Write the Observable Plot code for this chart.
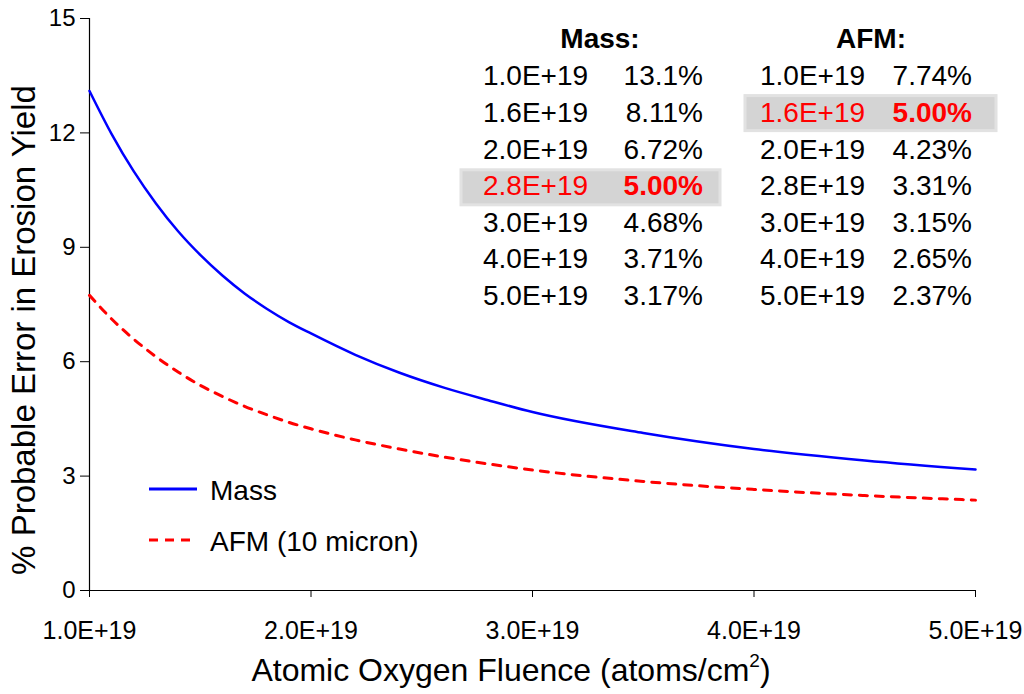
<!DOCTYPE html>
<html>
<head>
<meta charset="utf-8">
<script src="https://cdn.jsdelivr.net/npm/d3@7"></script>
<script src="https://cdn.jsdelivr.net/npm/@observablehq/plot@0.6"></script>
<style>
  html, body { margin: 0; padding: 0; background: #fff; }
  #wrap { position: relative; width: 1024px; height: 694px; }
  #wrap svg { position: absolute; left: 0; top: 0; }
</style>
</head>
<body>
<div id="wrap"></div>
<script>
// ---- data (fluence in units of 1E+19 atoms/cm^2, error in %) ----
const fluence   = [1.0, 1.1, 1.2, 1.3, 1.4, 1.5, 1.6, 1.7, 1.8, 1.9, 2.0, 2.2, 2.4, 2.6, 2.8, 3.0, 3.5, 4.0, 4.5, 5.0];
const massError = [13.1, 11.97, 10.99, 10.15, 9.42, 8.80, 8.26, 7.79, 7.39, 7.04, 6.74, 6.18, 5.71, 5.32, 4.99, 4.68, 4.13, 3.71, 3.41, 3.17];
const afmError  = [7.74, 7.12, 6.59, 6.13, 5.73, 5.38, 5.09, 4.83, 4.61, 4.41, 4.24, 3.95, 3.71, 3.50, 3.32, 3.16, 2.86, 2.65, 2.49, 2.37];

const xTicks = [1e19, 2e19, 3e19, 4e19, 5e19];
const yTicks = [0, 3, 6, 9, 12, 15];

const tableFluence = ["1.0E+19", "1.6E+19", "2.0E+19", "2.8E+19", "3.0E+19", "4.0E+19", "5.0E+19"];
const massTable    = ["13.1%", "8.11%", "6.72%", "5.00%", "4.68%", "3.71%", "3.17%"];
const afmTable     = ["7.74%", "5.00%", "4.23%", "3.31%", "3.15%", "2.65%", "2.37%"];
const massHighlight = 3;
const afmHighlight = 1;

const seriesNames = ["Mass", "AFM (10 micron)"];

const massData = fluence.map((f, i) => ({f: f * 1e19, v: massError[i]}));
const afmData  = fluence.map((f, i) => ({f: f * 1e19, v: afmError[i]}));

const FONT = "'Liberation Sans', Arial, Helvetica, sans-serif";
const fmt = d => (d / 1e19).toFixed(1) + "E+19";

const chart = Plot.plot({
  width: 1024,
  height: 694,
  marginLeft: 89,
  marginRight: 49,
  marginTop: 18,
  marginBottom: 104,
  style: {fontFamily: FONT, fontSize: "24px", color: "#000", background: "#fff"},
  x: {domain: [1e19, 5e19], label: null},
  y: {domain: [0, 15], label: null},
  marks: [
    Plot.axisX({ticks: xTicks, tickFormat: fmt, tickSize: 7, tickPadding: 24, label: null, stroke: "#000", fontSize: 25}),
    Plot.axisY({ticks: yTicks, tickSize: 9, tickPadding: 5, label: null, stroke: "#000", fontSize: 24}),
    Plot.ruleY([0], {stroke: "#000", strokeWidth: 1.2}),
    Plot.ruleX([1e19], {stroke: "#000", strokeWidth: 1.2}),
    Plot.line(afmData, {x: "f", y: "v", stroke: "#ff0000", strokeWidth: 3, strokeDasharray: "8,8", curve: "monotone-x"}),
    Plot.line(massData, {x: "f", y: "v", stroke: "#0000ff", strokeWidth: 2.5, curve: "monotone-x"})
  ]
});

const wrap = document.getElementById("wrap");
wrap.appendChild(chart);

// ---- overlay: titles, legend, table ----
const ov = d3.select(wrap).append("svg")
  .attr("width", 1024).attr("height", 694)
  .style("font-family", FONT)
  .style("pointer-events", "none");

// Axis titles
const xt = ov.append("text").attr("x", 511).attr("y", 681)
  .attr("text-anchor", "middle").attr("font-size", 32).attr("fill", "#000")
  .text("Atomic Oxygen Fluence (atoms/cm");
xt.append("tspan").attr("font-size", 19).attr("dy", -14).text("2");
xt.append("tspan").attr("font-size", 32).attr("dy", 14).text(")");

ov.append("text")
  .attr("transform", "translate(35,330) rotate(-90)")
  .attr("text-anchor", "middle").attr("font-size", 33).attr("fill", "#000")
  .text("% Probable Error in Erosion Yield");

// Legend
const legendY = [489, 540];
ov.append("line").attr("x1", 149).attr("x2", 197).attr("y1", legendY[0]).attr("y2", legendY[0])
  .attr("stroke", "#0000ff").attr("stroke-width", 3);
ov.append("line").attr("x1", 149).attr("x2", 191).attr("y1", legendY[1]).attr("y2", legendY[1])
  .attr("stroke", "#ff0000").attr("stroke-width", 3).attr("stroke-dasharray", "9,7");
seriesNames.forEach((n, i) => {
  ov.append("text").attr("x", 210).attr("y", legendY[i] + 4)
    .attr("dominant-baseline", "middle").attr("font-size", 28).attr("fill", "#000").text(n);
});

// Table
const rowY = i => 77 + i * 36.6;
ov.append("rect").attr("x", 461).attr("y", rowY(massHighlight) - 17).attr("width", 259).attr("height", 35)
  .attr("fill", "#d4d4d4").attr("stroke", "#e2e2e2").attr("stroke-width", 3);
ov.append("rect").attr("x", 745).attr("y", rowY(afmHighlight) - 18).attr("width", 251).attr("height", 35)
  .attr("fill", "#d4d4d4").attr("stroke", "#e2e2e2").attr("stroke-width", 3);

ov.append("text").attr("x", 600).attr("y", 41).attr("text-anchor", "middle")
  .attr("dominant-baseline", "middle").attr("font-size", 28).attr("font-weight", "bold").text("Mass:");
ov.append("text").attr("x", 871).attr("y", 41).attr("text-anchor", "middle")
  .attr("dominant-baseline", "middle").attr("font-size", 28).attr("font-weight", "bold").text("AFM:");

tableFluence.forEach((f, i) => {
  const y = rowY(i) + 1;
  const mh = i === massHighlight, ah = i === afmHighlight;
  ov.append("text").attr("x", 483).attr("y", y).attr("dominant-baseline", "middle")
    .attr("font-size", 28).attr("fill", mh ? "#ff0000" : "#000").text(f);
  ov.append("text").attr("x", 703).attr("y", y).attr("text-anchor", "end").attr("dominant-baseline", "middle")
    .attr("font-size", 28).attr("font-weight", mh ? "bold" : "normal")
    .attr("fill", mh ? "#ff0000" : "#000").text(massTable[i]);
  ov.append("text").attr("x", 760).attr("y", y).attr("dominant-baseline", "middle")
    .attr("font-size", 28).attr("fill", ah ? "#ff0000" : "#000").text(f);
  ov.append("text").attr("x", 972).attr("y", y).attr("text-anchor", "end").attr("dominant-baseline", "middle")
    .attr("font-size", 28).attr("font-weight", ah ? "bold" : "normal")
    .attr("fill", ah ? "#ff0000" : "#000").text(afmTable[i]);
});
</script>
</body>
</html>
